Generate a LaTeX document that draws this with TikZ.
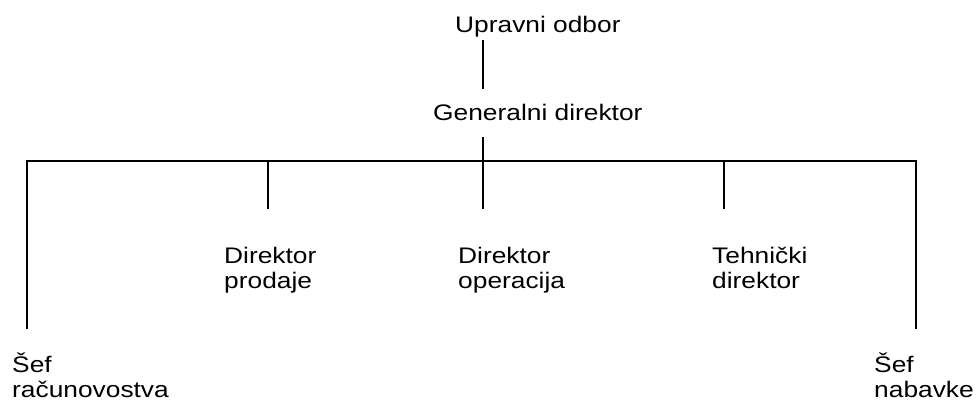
\documentclass[tikz,border=0pt]{standalone}
\usepackage{fontspec}
\setmainfont{Liberation Sans}
\begin{document}
\begin{tikzpicture}[x=1pt,y=-1pt,
  lbl/.style={anchor=base west, inner sep=0pt, align=left, xscale=1.17, transform shape,
    font=\fontsize{22.5pt}{25.5pt}\selectfont},
  conn/.style={line width=1.8pt, line cap=butt}]
\useasboundingbox (0,0) rectangle (977,404);
\node[lbl] (uo) at (455,33) {Upravni odbor};
\node[lbl] (gd) at (433,120) {Generalni direktor};
\node[lbl] (dp) at (224,288.5) {Direktor\\prodaje};
\node[lbl] (dop) at (458,288.5) {Direktor\\operacija};
\node[lbl] (td) at (712,288.5) {Tehnički\\direktor};
\node[lbl] (sr) at (12,397.5) {Šef\\računovostva};
\node[lbl] (sn) at (874,397.5) {Šef\\nabavke};
\coordinate (a1) at (483,40);
\coordinate (a2) at (483,89);
\coordinate (g1) at (483,137);
\coordinate (bc) at (483,161);
\coordinate (bl) at (27,161);
\coordinate (br) at (916,161);
\coordinate (blE) at (27,329);
\coordinate (brE) at (916,329);
\coordinate (p1) at (268,161);
\coordinate (p2) at (268,209);
\coordinate (o2) at (483,209);
\coordinate (t1) at (724,161);
\coordinate (t2) at (724,209);
\draw[conn] (a1) -- (a2);
\draw[conn] (g1) -- (o2);
\draw[conn] (blE) -- (bl) -- (br) -- (brE);
\draw[conn] (p1) -- (p2);
\draw[conn] (t1) -- (t2);
\end{tikzpicture}
\end{document}
